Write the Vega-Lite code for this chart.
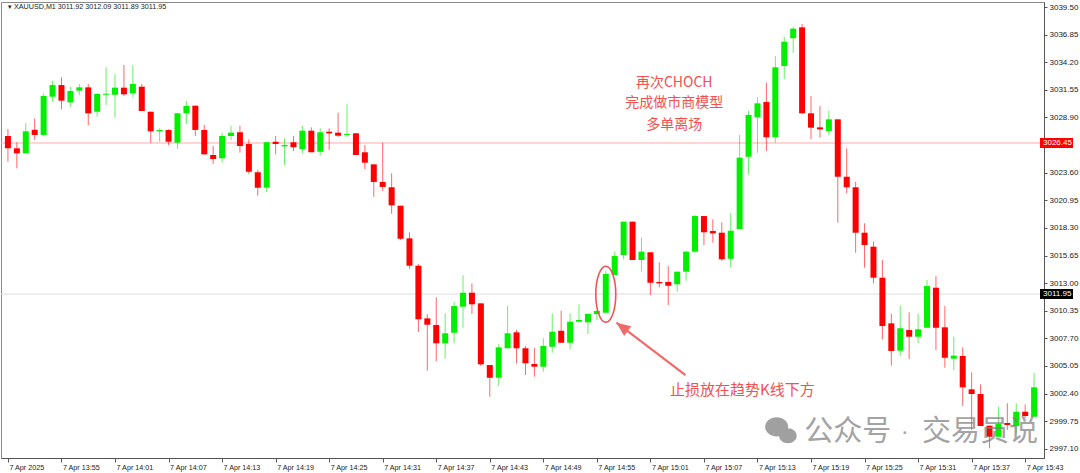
{
  "$schema": "https://vega.github.io/schema/vega-lite/v6.json",
  "width": 1043,
  "height": 456,
  "autosize": {"type": "none"},
  "padding": {"left": 1, "top": 2, "right": 36, "bottom": 15},
  "background": "white",
  "config": {
    "view": {"stroke": "#8a8a8a"},
    "font": "Liberation Sans"
  },
  "datasets": {
    "candles": [
      {"t": "2025-04-07T13:49", "o": 3027.12, "h": 3027.79, "l": 3024.65, "c": 3025.94},
      {"t": "2025-04-07T13:50", "o": 3025.94, "h": 3026.52, "l": 3024.02, "c": 3025.46},
      {"t": "2025-04-07T13:51", "o": 3025.46, "h": 3028.34, "l": 3025.46, "c": 3027.57},
      {"t": "2025-04-07T13:52", "o": 3027.72, "h": 3028.82, "l": 3026.74, "c": 3027.22},
      {"t": "2025-04-07T13:53", "o": 3027.22, "h": 3031.22, "l": 3027.12, "c": 3030.96},
      {"t": "2025-04-07T13:54", "o": 3030.89, "h": 3032.43, "l": 3030.41, "c": 3032.01},
      {"t": "2025-04-07T13:55", "o": 3032.01, "h": 3032.75, "l": 3029.68, "c": 3030.51},
      {"t": "2025-04-07T13:56", "o": 3030.35, "h": 3031.85, "l": 3029.93, "c": 3031.44},
      {"t": "2025-04-07T13:57", "o": 3031.47, "h": 3032.11, "l": 3031.05, "c": 3031.79},
      {"t": "2025-04-07T13:58", "o": 3031.79, "h": 3032.11, "l": 3028.15, "c": 3029.30},
      {"t": "2025-04-07T13:59", "o": 3029.45, "h": 3031.22, "l": 3028.97, "c": 3031.15},
      {"t": "2025-04-07T14:00", "o": 3031.08, "h": 3033.71, "l": 3030.09, "c": 3031.18},
      {"t": "2025-04-07T14:01", "o": 3031.08, "h": 3033.07, "l": 3028.88, "c": 3031.76},
      {"t": "2025-04-07T14:02", "o": 3031.76, "h": 3033.93, "l": 3030.96, "c": 3031.12},
      {"t": "2025-04-07T14:03", "o": 3031.22, "h": 3033.93, "l": 3030.83, "c": 3032.11},
      {"t": "2025-04-07T14:04", "o": 3031.85, "h": 3032.11, "l": 3029.52, "c": 3029.52},
      {"t": "2025-04-07T14:05", "o": 3029.45, "h": 3029.45, "l": 3026.48, "c": 3027.57},
      {"t": "2025-04-07T14:06", "o": 3027.57, "h": 3027.86, "l": 3026.57, "c": 3027.70},
      {"t": "2025-04-07T14:07", "o": 3027.70, "h": 3027.76, "l": 3026.26, "c": 3026.57},
      {"t": "2025-04-07T14:08", "o": 3026.48, "h": 3029.30, "l": 3025.90, "c": 3029.30},
      {"t": "2025-04-07T14:09", "o": 3029.30, "h": 3030.48, "l": 3028.27, "c": 3030.00},
      {"t": "2025-04-07T14:10", "o": 3030.03, "h": 3030.03, "l": 3027.12, "c": 3027.70},
      {"t": "2025-04-07T14:11", "o": 3027.70, "h": 3028.18, "l": 3025.36, "c": 3025.36},
      {"t": "2025-04-07T14:12", "o": 3025.30, "h": 3026.16, "l": 3024.43, "c": 3024.91},
      {"t": "2025-04-07T14:13", "o": 3024.98, "h": 3027.44, "l": 3024.56, "c": 3027.12},
      {"t": "2025-04-07T14:14", "o": 3027.12, "h": 3028.11, "l": 3026.74, "c": 3027.44},
      {"t": "2025-04-07T14:15", "o": 3027.48, "h": 3028.11, "l": 3025.52, "c": 3026.16},
      {"t": "2025-04-07T14:16", "o": 3026.35, "h": 3026.80, "l": 3023.47, "c": 3023.69},
      {"t": "2025-04-07T14:17", "o": 3023.64, "h": 3023.86, "l": 3021.39, "c": 3022.16},
      {"t": "2025-04-07T14:18", "o": 3022.16, "h": 3026.57, "l": 3021.72, "c": 3026.52},
      {"t": "2025-04-07T14:19", "o": 3026.57, "h": 3027.12, "l": 3025.36, "c": 3026.35},
      {"t": "2025-04-07T14:20", "o": 3026.13, "h": 3026.90, "l": 3024.34, "c": 3026.26},
      {"t": "2025-04-07T14:21", "o": 3026.52, "h": 3027.12, "l": 3025.68, "c": 3026.04},
      {"t": "2025-04-07T14:22", "o": 3025.87, "h": 3028.08, "l": 3025.46, "c": 3027.63},
      {"t": "2025-04-07T14:23", "o": 3027.63, "h": 3027.95, "l": 3025.56, "c": 3025.56},
      {"t": "2025-04-07T14:24", "o": 3025.61, "h": 3027.86, "l": 3025.23, "c": 3027.48},
      {"t": "2025-04-07T14:25", "o": 3027.53, "h": 3027.86, "l": 3025.78, "c": 3027.38},
      {"t": "2025-04-07T14:26", "o": 3027.44, "h": 3029.36, "l": 3027.05, "c": 3027.15},
      {"t": "2025-04-07T14:27", "o": 3027.22, "h": 3030.16, "l": 3027.05, "c": 3027.31},
      {"t": "2025-04-07T14:28", "o": 3027.38, "h": 3027.38, "l": 3025.30, "c": 3025.30},
      {"t": "2025-04-07T14:29", "o": 3025.56, "h": 3026.26, "l": 3023.95, "c": 3024.56},
      {"t": "2025-04-07T14:30", "o": 3024.40, "h": 3024.40, "l": 3021.29, "c": 3022.71},
      {"t": "2025-04-07T14:31", "o": 3022.71, "h": 3026.48, "l": 3021.84, "c": 3022.23},
      {"t": "2025-04-07T14:32", "o": 3022.20, "h": 3023.54, "l": 3019.66, "c": 3020.47},
      {"t": "2025-04-07T14:33", "o": 3020.43, "h": 3020.43, "l": 3017.14, "c": 3017.26},
      {"t": "2025-04-07T14:34", "o": 3017.30, "h": 3017.88, "l": 3014.38, "c": 3014.67},
      {"t": "2025-04-07T14:35", "o": 3014.67, "h": 3014.84, "l": 3008.31, "c": 3009.53},
      {"t": "2025-04-07T14:36", "o": 3009.62, "h": 3010.01, "l": 3004.60, "c": 3009.01},
      {"t": "2025-04-07T14:37", "o": 3008.98, "h": 3011.64, "l": 3005.50, "c": 3007.23},
      {"t": "2025-04-07T14:38", "o": 3007.23, "h": 3010.10, "l": 3005.75, "c": 3008.19},
      {"t": "2025-04-07T14:39", "o": 3008.24, "h": 3011.22, "l": 3007.23, "c": 3010.80},
      {"t": "2025-04-07T14:40", "o": 3010.74, "h": 3013.75, "l": 3008.72, "c": 3012.08},
      {"t": "2025-04-07T14:41", "o": 3012.08, "h": 3012.98, "l": 3010.04, "c": 3010.97},
      {"t": "2025-04-07T14:42", "o": 3011.06, "h": 3011.06, "l": 3005.05, "c": 3005.21},
      {"t": "2025-04-07T14:43", "o": 3005.14, "h": 3005.14, "l": 3002.10, "c": 3003.92},
      {"t": "2025-04-07T14:44", "o": 3003.92, "h": 3007.13, "l": 3003.13, "c": 3006.84},
      {"t": "2025-04-07T14:45", "o": 3006.75, "h": 3010.80, "l": 3006.75, "c": 3008.19},
      {"t": "2025-04-07T14:46", "o": 3008.28, "h": 3008.50, "l": 3005.31, "c": 3006.75},
      {"t": "2025-04-07T14:47", "o": 3006.75, "h": 3006.97, "l": 3004.18, "c": 3005.31},
      {"t": "2025-04-07T14:48", "o": 3005.24, "h": 3006.80, "l": 3004.02, "c": 3004.98},
      {"t": "2025-04-07T14:49", "o": 3004.98, "h": 3007.71, "l": 3004.50, "c": 3006.97},
      {"t": "2025-04-07T14:50", "o": 3006.90, "h": 3010.10, "l": 3006.32, "c": 3008.34},
      {"t": "2025-04-07T14:51", "o": 3008.43, "h": 3010.35, "l": 3007.28, "c": 3007.28},
      {"t": "2025-04-07T14:52", "o": 3007.28, "h": 3010.10, "l": 3006.65, "c": 3009.30},
      {"t": "2025-04-07T14:53", "o": 3009.30, "h": 3010.97, "l": 3009.20, "c": 3009.46},
      {"t": "2025-04-07T14:54", "o": 3009.24, "h": 3010.10, "l": 3008.12, "c": 3010.04},
      {"t": "2025-04-07T14:55", "o": 3010.04, "h": 3010.42, "l": 3009.46, "c": 3010.33},
      {"t": "2025-04-07T14:56", "o": 3010.16, "h": 3014.19, "l": 3010.16, "c": 3013.88},
      {"t": "2025-04-07T14:57", "o": 3013.78, "h": 3016.02, "l": 3013.78, "c": 3015.60},
      {"t": "2025-04-07T14:58", "o": 3015.70, "h": 3018.90, "l": 3015.29, "c": 3018.90},
      {"t": "2025-04-07T14:59", "o": 3018.90, "h": 3018.90, "l": 3015.22, "c": 3015.22},
      {"t": "2025-04-07T15:00", "o": 3015.22, "h": 3017.36, "l": 3014.10, "c": 3016.02},
      {"t": "2025-04-07T15:01", "o": 3015.96, "h": 3015.96, "l": 3011.86, "c": 3013.04},
      {"t": "2025-04-07T15:02", "o": 3013.11, "h": 3015.00, "l": 3012.60, "c": 3012.98},
      {"t": "2025-04-07T15:03", "o": 3013.11, "h": 3014.64, "l": 3010.90, "c": 3012.75},
      {"t": "2025-04-07T15:04", "o": 3012.89, "h": 3014.10, "l": 3012.18, "c": 3014.10},
      {"t": "2025-04-07T15:05", "o": 3014.10, "h": 3016.11, "l": 3013.23, "c": 3016.02},
      {"t": "2025-04-07T15:06", "o": 3016.02, "h": 3019.54, "l": 3015.86, "c": 3019.44},
      {"t": "2025-04-07T15:07", "o": 3019.44, "h": 3019.44, "l": 3016.66, "c": 3017.88},
      {"t": "2025-04-07T15:08", "o": 3018.00, "h": 3019.13, "l": 3016.88, "c": 3017.78},
      {"t": "2025-04-07T15:09", "o": 3017.84, "h": 3018.84, "l": 3015.15, "c": 3015.29},
      {"t": "2025-04-07T15:10", "o": 3015.34, "h": 3019.76, "l": 3014.52, "c": 3018.03},
      {"t": "2025-04-07T15:11", "o": 3018.19, "h": 3027.22, "l": 3018.19, "c": 3025.04},
      {"t": "2025-04-07T15:12", "o": 3025.13, "h": 3029.55, "l": 3023.44, "c": 3029.14},
      {"t": "2025-04-07T15:13", "o": 3028.91, "h": 3030.83, "l": 3025.52, "c": 3030.26},
      {"t": "2025-04-07T15:14", "o": 3030.38, "h": 3032.24, "l": 3025.68, "c": 3027.00},
      {"t": "2025-04-07T15:15", "o": 3027.00, "h": 3034.80, "l": 3026.48, "c": 3033.71},
      {"t": "2025-04-07T15:16", "o": 3033.84, "h": 3036.65, "l": 3032.59, "c": 3036.17},
      {"t": "2025-04-07T15:17", "o": 3036.50, "h": 3037.61, "l": 3035.11, "c": 3037.42},
      {"t": "2025-04-07T15:18", "o": 3037.55, "h": 3037.87, "l": 3029.23, "c": 3029.30},
      {"t": "2025-04-07T15:19", "o": 3029.30, "h": 3030.96, "l": 3026.80, "c": 3027.92},
      {"t": "2025-04-07T15:20", "o": 3027.95, "h": 3030.00, "l": 3026.96, "c": 3027.76},
      {"t": "2025-04-07T15:21", "o": 3027.60, "h": 3029.55, "l": 3027.22, "c": 3028.72},
      {"t": "2025-04-07T15:22", "o": 3028.72, "h": 3028.72, "l": 3018.80, "c": 3023.21},
      {"t": "2025-04-07T15:23", "o": 3023.21, "h": 3025.94, "l": 3021.62, "c": 3022.20},
      {"t": "2025-04-07T15:24", "o": 3022.20, "h": 3022.73, "l": 3015.92, "c": 3017.84},
      {"t": "2025-04-07T15:25", "o": 3017.84, "h": 3018.74, "l": 3014.48, "c": 3016.66},
      {"t": "2025-04-07T15:26", "o": 3016.50, "h": 3016.98, "l": 3012.98, "c": 3013.52},
      {"t": "2025-04-07T15:27", "o": 3013.52, "h": 3015.22, "l": 3007.61, "c": 3008.89},
      {"t": "2025-04-07T15:28", "o": 3009.14, "h": 3010.04, "l": 3005.08, "c": 3006.49},
      {"t": "2025-04-07T15:29", "o": 3006.52, "h": 3010.83, "l": 3006.01, "c": 3008.67},
      {"t": "2025-04-07T15:30", "o": 3008.50, "h": 3010.20, "l": 3005.72, "c": 3007.86},
      {"t": "2025-04-07T15:31", "o": 3007.86, "h": 3010.10, "l": 3007.23, "c": 3008.57},
      {"t": "2025-04-07T15:32", "o": 3008.72, "h": 3013.30, "l": 3008.72, "c": 3012.72},
      {"t": "2025-04-07T15:33", "o": 3012.56, "h": 3013.68, "l": 3006.58, "c": 3008.72},
      {"t": "2025-04-07T15:34", "o": 3008.76, "h": 3010.80, "l": 3004.88, "c": 3005.84},
      {"t": "2025-04-07T15:35", "o": 3005.75, "h": 3007.86, "l": 3004.66, "c": 3006.04},
      {"t": "2025-04-07T15:36", "o": 3006.01, "h": 3006.84, "l": 3001.21, "c": 3003.00},
      {"t": "2025-04-07T15:37", "o": 3002.81, "h": 3004.44, "l": 2998.90, "c": 3002.36},
      {"t": "2025-04-07T15:38", "o": 3002.36, "h": 3003.29, "l": 2999.29, "c": 2999.29},
      {"t": "2025-04-07T15:39", "o": 2999.32, "h": 2999.32, "l": 2997.15, "c": 2998.26},
      {"t": "2025-04-07T15:40", "o": 2998.26, "h": 3001.14, "l": 2998.26, "c": 2999.48},
      {"t": "2025-04-07T15:41", "o": 2999.58, "h": 3001.47, "l": 2998.90, "c": 2999.39},
      {"t": "2025-04-07T15:42", "o": 2999.29, "h": 3001.47, "l": 2998.60, "c": 3000.66},
      {"t": "2025-04-07T15:43", "o": 3000.66, "h": 3001.37, "l": 3000.03, "c": 3000.25},
      {"t": "2025-04-07T15:44", "o": 3000.18, "h": 3004.40, "l": 3000.18, "c": 3003.00}
    ],
    "levels": [
      {"level": "exit", "p": 3026.45},
      {"level": "bid", "p": 3011.95}
    ],
    "header": [
      {"t": "2025-04-07T13:49:00", "p": 3039.5, "label": "▾  XAUUSD,M1  3011.92 3012.09 3011.89 3011.95"}
    ],
    "choch": [
      {"t": "2025-04-07T15:03:40", "p": 3032.25, "label": "再次CHOCH"},
      {"t": "2025-04-07T15:03:40", "p": 3030.29, "label": "完成做市商模型"},
      {"t": "2025-04-07T15:03:40", "p": 3028.22, "label": "多单离场"}
    ],
    "stop": [
      {"t": "2025-04-07T15:03:12", "p": 3002.74, "label": "止损放在趋势K线下方"}
    ],
    "ring": [
      {"t": "2025-04-07T14:56:00", "p": 3011.93}
    ],
    "arrow": [
      {"t": "2025-04-07T15:04:56", "p": 3004.18},
      {"t": "2025-04-07T14:57:12", "p": 3009.20}
    ],
    "arrowTip": [
      {"t": "2025-04-07T14:57:12", "p": 3009.20}
    ],
    "wechatIcon": [
      {"t": "2025-04-07T15:15:36", "p": 2998.90}
    ],
    "wechatText": [
      {"t": "2025-04-07T15:18:15", "p": 2998.71, "label": "公众号"},
      {"t": "2025-04-07T15:31:26", "p": 2998.71, "label": "交易员说"}
    ],
    "wechatDot": [
      {"t": "2025-04-07T15:29:30", "p": 2998.71, "label": "·"}
    ]
  },
  "layer": [
    {
      "data": {"name": "levels"},
      "mark": {"type": "rule", "strokeWidth": 1},
      "encoding": {
        "y": {"field": "p", "type": "quantitative", "title": null},
        "stroke": {
          "field": "level",
          "type": "nominal",
          "scale": {"domain": ["exit", "bid"], "range": ["#ffaaaa", "#dedede"]},
          "legend": null
        }
      }
    },
    {
      "data": {"name": "candles"},
      "mark": {"type": "rule", "strokeWidth": 1, "opacity": 0.6},
      "encoding": {
        "x": {
          "field": "t",
          "type": "temporal",
          "title": null,
          "scale": {
            "domain": [
              {"year": 2025, "month": 4, "date": 7, "hours": 13, "minutes": 48, "seconds": 47},
              {"year": 2025, "month": 4, "date": 7, "hours": 15, "minutes": 44, "seconds": 33}
            ],
            "nice": false
          },
          "axis": {
            "values": [
              {"year": 2025, "month": 4, "date": 7, "hours": 13, "minutes": 49},
              {"year": 2025, "month": 4, "date": 7, "hours": 13, "minutes": 55},
              {"year": 2025, "month": 4, "date": 7, "hours": 14, "minutes": 1},
              {"year": 2025, "month": 4, "date": 7, "hours": 14, "minutes": 7},
              {"year": 2025, "month": 4, "date": 7, "hours": 14, "minutes": 13},
              {"year": 2025, "month": 4, "date": 7, "hours": 14, "minutes": 19},
              {"year": 2025, "month": 4, "date": 7, "hours": 14, "minutes": 25},
              {"year": 2025, "month": 4, "date": 7, "hours": 14, "minutes": 31},
              {"year": 2025, "month": 4, "date": 7, "hours": 14, "minutes": 37},
              {"year": 2025, "month": 4, "date": 7, "hours": 14, "minutes": 43},
              {"year": 2025, "month": 4, "date": 7, "hours": 14, "minutes": 49},
              {"year": 2025, "month": 4, "date": 7, "hours": 14, "minutes": 55},
              {"year": 2025, "month": 4, "date": 7, "hours": 15, "minutes": 1},
              {"year": 2025, "month": 4, "date": 7, "hours": 15, "minutes": 7},
              {"year": 2025, "month": 4, "date": 7, "hours": 15, "minutes": 13},
              {"year": 2025, "month": 4, "date": 7, "hours": 15, "minutes": 19},
              {"year": 2025, "month": 4, "date": 7, "hours": 15, "minutes": 25},
              {"year": 2025, "month": 4, "date": 7, "hours": 15, "minutes": 31},
              {"year": 2025, "month": 4, "date": 7, "hours": 15, "minutes": 37},
              {"year": 2025, "month": 4, "date": 7, "hours": 15, "minutes": 43}
            ],
            "tickCount": 30,
            "labelExpr": "hours(datum.value) == 13 && minutes(datum.value) == 49 ? '7 Apr 2025' : timeFormat(datum.value, '%-d %b %H:%M')",
            "labelAlign": "left",
            "labelBaseline": "top",
            "labelPadding": 1,
            "labelOffset": 1,
            "labelFontSize": 7.2,
            "labelColor": "#222222",
            "labelFlush": false,
            "labelOverlap": false,
            "tickSize": 4,
            "tickColor": "#555555",
            "domainColor": "#555555",
            "grid": false
          }
        },
        "y": {
          "field": "l",
          "type": "quantitative",
          "title": null,
          "scale": {"domain": [2996.22, 3039.98], "nice": false, "zero": false},
          "axis": {
            "orient": "right",
            "values": [3039.5, 3036.85, 3034.2, 3031.55, 3028.9, 3023.6, 3020.95, 3018.3, 3015.65, 3013.0, 3010.35, 3007.7, 3005.05, 3002.4, 2999.75, 2997.1],
            "tickCount": 30,
            "format": ".2f",
            "labelFontSize": 8,
            "labelColor": "#222222",
            "labelPadding": 2,
            "labelOverlap": false,
            "labelFlush": false,
            "tickSize": 3,
            "tickColor": "#555555",
            "domainColor": "#555555",
            "grid": false
          }
        },
        "y2": {"field": "h"},
        "color": {"condition": {"test": "datum.c > datum.o", "value": "#00e600"}, "value": "#ff0000"}
      }
    },
    {
      "data": {"name": "candles"},
      "mark": {"type": "bar", "width": 6},
      "encoding": {
        "x": {"field": "t", "type": "temporal", "title": null},
        "y": {"field": "o", "type": "quantitative", "title": null},
        "y2": {"field": "c"},
        "color": {"condition": {"test": "datum.c > datum.o", "value": "#00f000"}, "value": "#ff0000"}
      }
    },
    {
      "data": {"name": "ring"},
      "mark": {
        "type": "point",
        "shape": "M0,-1C0.197,-1,0.357,-0.552,0.357,0C0.357,0.552,0.197,1,0,1C-0.197,1,-0.357,0.552,-0.357,0C-0.357,-0.552,-0.197,-1,0,-1Z",
        "size": 3136,
        "filled": false,
        "stroke": "#f05555",
        "strokeWidth": 1.6,
        "opacity": 1
      },
      "encoding": {
        "x": {"field": "t", "type": "temporal", "title": null},
        "y": {"field": "p", "type": "quantitative", "title": null}
      }
    },
    {
      "data": {"name": "arrow"},
      "mark": {"type": "line", "stroke": "#f06a6a", "strokeWidth": 2.2},
      "encoding": {
        "x": {"field": "t", "type": "temporal", "title": null},
        "y": {"field": "p", "type": "quantitative", "title": null}
      }
    },
    {
      "data": {"name": "arrowTip"},
      "mark": {
        "type": "point",
        "shape": "M0,0L-0.85,2L0.85,2Z",
        "size": 196,
        "angle": 306.8,
        "filled": true,
        "fill": "#f06a6a",
        "strokeWidth": 0,
        "opacity": 1
      },
      "encoding": {
        "x": {"field": "t", "type": "temporal", "title": null},
        "y": {"field": "p", "type": "quantitative", "title": null}
      }
    },
    {
      "data": {"name": "choch"},
      "mark": {
        "type": "text",
        "font": "Noto Sans CJK SC",
        "fontSize": 14,
        "color": "#f45050",
        "align": "center",
        "baseline": "middle"
      },
      "encoding": {
        "x": {"field": "t", "type": "temporal", "title": null},
        "y": {"field": "p", "type": "quantitative", "title": null},
        "text": {"field": "label"}
      }
    },
    {
      "data": {"name": "stop"},
      "mark": {
        "type": "text",
        "font": "Noto Sans CJK SC",
        "fontSize": 15,
        "color": "#f45050",
        "align": "left",
        "baseline": "middle"
      },
      "encoding": {
        "x": {"field": "t", "type": "temporal", "title": null},
        "y": {"field": "p", "type": "quantitative", "title": null},
        "text": {"field": "label"}
      }
    },
    {
      "data": {"name": "header"},
      "mark": {
        "type": "text",
        "fontSize": 7.2,
        "color": "#222222",
        "align": "left",
        "baseline": "middle"
      },
      "encoding": {
        "x": {"field": "t", "type": "temporal", "title": null},
        "y": {"field": "p", "type": "quantitative", "title": null},
        "text": {"field": "label"}
      }
    },
    {
      "data": {"name": "wechatIcon"},
      "mark": {
        "type": "point",
        "shape": "M-0.25,-0.8C0.148,-0.8,0.47,-0.531,0.47,-0.2C0.47,0.131,0.148,0.4,-0.25,0.4C-0.648,0.4,-0.97,0.131,-0.97,-0.2C-0.97,-0.531,-0.648,-0.8,-0.25,-0.8ZM0.45,-0.12C0.754,-0.12,1,0.09,1,0.35C1,0.61,0.754,0.82,0.45,0.82C0.146,0.82,-0.1,0.61,-0.1,0.35C-0.1,0.09,0.146,-0.12,0.45,-0.12Z",
        "size": 1024,
        "filled": true,
        "fill": "#808080",
        "strokeWidth": 0,
        "opacity": 0.75
      },
      "encoding": {
        "x": {"field": "t", "type": "temporal", "title": null},
        "y": {"field": "p", "type": "quantitative", "title": null}
      }
    },
    {
      "data": {"name": "wechatText"},
      "mark": {
        "type": "text",
        "font": "Noto Sans CJK SC",
        "fontSize": 29,
        "color": "#808080",
        "opacity": 0.72,
        "align": "left",
        "baseline": "middle"
      },
      "encoding": {
        "x": {"field": "t", "type": "temporal", "title": null},
        "y": {"field": "p", "type": "quantitative", "title": null},
        "text": {"field": "label"}
      }
    },
    {
      "data": {"name": "wechatDot"},
      "mark": {
        "type": "text",
        "font": "Liberation Sans",
        "fontSize": 24,
        "color": "#808080",
        "opacity": 0.72,
        "align": "center",
        "baseline": "middle"
      },
      "encoding": {
        "x": {"field": "t", "type": "temporal", "title": null},
        "y": {"field": "p", "type": "quantitative", "title": null},
        "text": {"field": "label"}
      }
    },
    {
      "data": {"name": "levels"},
      "mark": {"type": "rect", "xOffset": 1, "x2Offset": 34, "yOffset": -5, "y2Offset": 5},
      "encoding": {
        "x": {"datum": {"year": 2025, "month": 4, "date": 7, "hours": 15, "minutes": 44, "seconds": 33}, "type": "temporal"},
        "x2": {"datum": {"year": 2025, "month": 4, "date": 7, "hours": 15, "minutes": 44, "seconds": 33}},
        "y": {"field": "p", "type": "quantitative", "title": null},
        "y2": {"field": "p"},
        "fill": {
          "field": "level",
          "type": "nominal",
          "scale": {"domain": ["exit", "bid"], "range": ["#ff0000", "#000000"]},
          "legend": null
        }
      }
    },
    {
      "data": {"name": "levels"},
      "mark": {"type": "text", "dx": 4, "fontSize": 8, "color": "#ffffff", "align": "left", "baseline": "middle"},
      "encoding": {
        "x": {"datum": {"year": 2025, "month": 4, "date": 7, "hours": 15, "minutes": 44, "seconds": 33}, "type": "temporal"},
        "y": {"field": "p", "type": "quantitative", "title": null},
        "text": {"field": "p", "format": ".2f"}
      }
    }
  ]
}
